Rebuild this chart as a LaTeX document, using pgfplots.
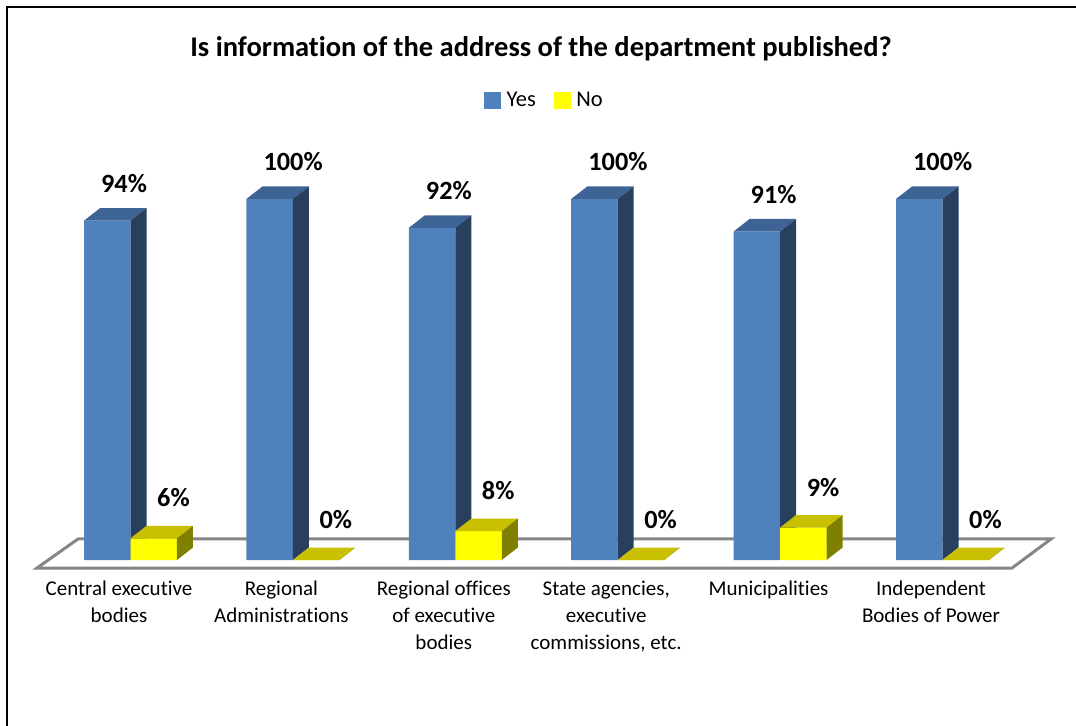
\documentclass[border=0pt]{standalone}
\usepackage{pgfplots}
\usepackage{pgfplotstable}
\pgfplotsset{compat=1.18}
\usepackage{fontspec}
\setmainfont{Carlito}[Ligatures=NoCommon]

\definecolor{yesFront}{HTML}{4F81BD}
\definecolor{yesTop}{HTML}{3D6494}
\definecolor{yesSide}{HTML}{283F5D}
\definecolor{noFront}{HTML}{FFFF00}
\definecolor{noTop}{HTML}{C8C000}
\definecolor{noSide}{HTML}{808000}
\definecolor{floorGray}{HTML}{868686}

\pgfplotstableread{
k yes no
0 94 6
1 100 0
2 92 8
3 100 0
4 91 9
5 100 0
}\datatable

% top and side faces of one 3-D column, value taken from the table
\newcommand{\cubefaces}[5]{%
  \pgfplotstablegetelem{#1}{#2}\of\datatable
  \pgfmathsetmacro\cv{\pgfplotsretval}%
  \pgfmathsetmacro\cvd{\cv+3.46}%
  \pgfmathsetmacro\xa{#1+#3}%
  \pgfmathsetmacro\xb{#1+#3+0.2863}%
  \pgfmathsetmacro\xc{#1+#3+0.2863+0.0985}%
  \pgfmathsetmacro\xd{#1+#3+0.0985}%
  \edef\doplot{%
    \noexpand\addplot[forget plot, draw=none, fill=#4] coordinates {(\xa,\cv) (\xb,\cv) (\xc,\cvd) (\xd,\cvd)};
    \noexpand\addplot[forget plot, draw=none, fill=#5] coordinates {(\xb,0) (\xc,3.46) (\xc,\cvd) (\xb,\cv)};
  }\doplot
}

\begin{document}
\begin{tikzpicture}
\begin{axis}[
  scale only axis, width=1076pt, height=726pt,
  xmin=-0.7328, xmax=5.8929, ymin=-45.98, ymax=155.12,
  axis line style={draw=none},
  ytick=\empty,
  xtick={0,...,5},
  xticklabels={{Central executive\\bodies},{Regional\\Administrations},{Regional offices\\of executive\\bodies},{State agencies,\\executive\\commissions, etc.},{Municipalities},{Independent\\Bodies of Power}},
  xticklabel style={align=center, font=\fontsize{21}{27}\selectfont, inner sep=0pt, anchor=north, yshift=145pt},
  major tick length=0pt,
  clip=false,
  legend columns=2,
  legend style={at={(rel axis cs:0.4498,0.8623)}, anchor=west, draw=none, fill=none, inner sep=0pt,
    nodes={inner sep=0pt},
    font=\fontsize{22.5}{27}\selectfont,
    /tikz/every odd column/.append style={column sep=6pt},
    /tikz/every even column/.append style={column sep=18pt}},
]
\addlegendimage{legend image code/.code={\fill[yesFront] (0pt,-8pt) rectangle (16pt,8pt);}}
\addlegendentry{Yes}
\addlegendimage{legend image code/.code={\fill[noFront] (0pt,-8pt) rectangle (16pt,8pt);}}
\addlegendentry{No}

% floor
\addplot[forget plot, draw=floorGray, line width=3pt, fill=white] coordinates {(-0.505,-2.22) (-0.2525,5.82) (5.739,5.82) (5.499,-2.22)} -- cycle;

% Yes columns
\addplot[forget plot, ybar, bar width=0.2863, bar shift=-0.07235, fill=yesFront, draw=none] table[x=k, y=yes] {\datatable};
\pgfplotsinvokeforeach{0,...,5}{\cubefaces{#1}{yes}{-0.2155}{yesTop}{yesSide}}

% No columns
\addplot[forget plot, ybar, bar width=0.2863, bar shift=0.21395, fill=noFront, draw=none] table[x=k, y=no] {\datatable};
\pgfplotsinvokeforeach{0,...,5}{\cubefaces{#1}{no}{0.0708}{noTop}{noSide}}

% value labels
\addplot[forget plot, draw=none, mark=none, point meta=explicit symbolic,
  nodes near coords={\raisebox{0pt}[0pt][0pt]{\makebox[0pt][l]{\pgfplotspointmeta\%}}},
  every node near coord/.append style={inner sep=0pt, yshift=27.7pt, font=\fontsize{26.3}{30}\selectfont\bfseries}]
  table[x expr=\thisrow{k}-0.1100, y=yes, meta=yes] {\datatable};
\addplot[forget plot, draw=none, mark=none, point meta=explicit symbolic,
  nodes near coords={\raisebox{0pt}[0pt][0pt]{\makebox[0pt][l]{\pgfplotspointmeta\%}}},
  every node near coord/.append style={inner sep=0pt, yshift=30.7pt, font=\fontsize{26.3}{30}\selectfont\bfseries}]
  table[x expr=\thisrow{k}+0.235, y=no, meta=no] {\datatable};

% title
\node[anchor=base, font=\fontsize{28.5}{34}\selectfont\bfseries] at (rel axis cs:0.5028,0.92149) {Is information of the address of the department published?};

% frame
\draw[line width=2.5pt, black] (rel axis cs:0.00651,0) -- (rel axis cs:0.00651,0.99036) -- (rel axis cs:1,0.99036);
\end{axis}
\pgfresetboundingbox
\useasboundingbox (current axis.south west) rectangle (current axis.north east);
\end{tikzpicture}
\end{document}
